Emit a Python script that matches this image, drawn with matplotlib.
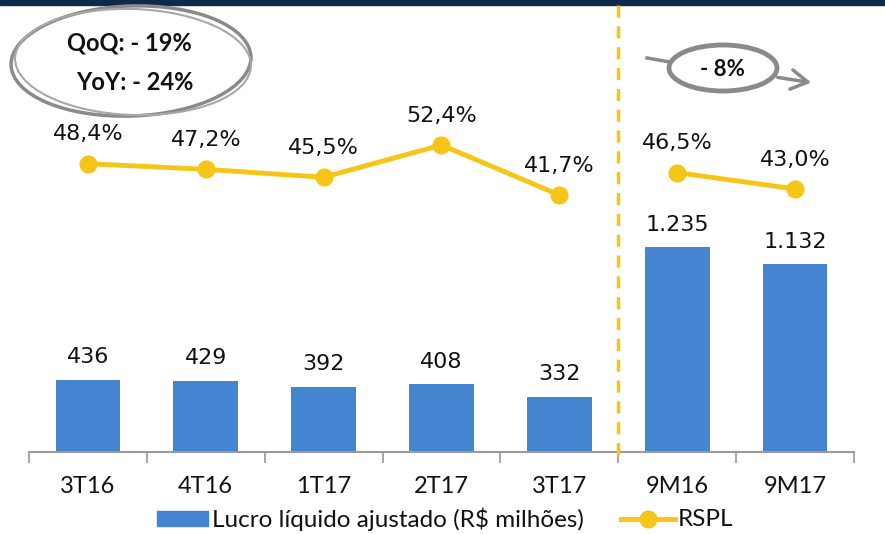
import matplotlib
matplotlib.use("Agg")
import matplotlib.pyplot as plt
from matplotlib.patches import Ellipse, FancyArrowPatch, Rectangle
from matplotlib.lines import Line2D

categories = ["3T16", "4T16", "1T17", "2T17", "3T17", "9M16", "9M17"]
lucro = [436, 429, 392, 408, 332, 1235, 1132]
lucro_labels = ["436", "429", "392", "408", "332", "1.235", "1.132"]
rspl = [48.4, 47.2, 45.5, 52.4, 41.7, 46.5, 43.0]
rspl_labels = ["48,4%", "47,2%", "45,5%", "52,4%", "41,7%", "46,5%", "43,0%"]

BLUE = "#4484d1"
YELLOW = "#f5c518"
GREY = "#8a8a8a"
NAVY = "#10284a"
NARROW = ["Lato", "DejaVu Sans"]

W, H = 885, 534
fig = plt.figure(figsize=(W / 100, H / 100), dpi=100)

# main axes: baseline at y=452 px, left/right at 29/854 px
left, right, base, top = 29, 854, 452, 10
ax = fig.add_axes([left / W, 1 - base / H, (right - left) / W, (base - top) / H])
ax.set_xlim(-0.5, 6.5)
ax.set_ylim(0, 2665)
ax.bar(range(7), lucro, width=0.55, color=BLUE, zorder=2)
for i, (v, lab) in enumerate(zip(lucro, lucro_labels)):
    ax.annotate(lab, (i, v), xytext=(0, 9), textcoords="offset points",
                ha="center", va="bottom", fontsize=16, color="#111111")

for s in ["top", "right", "left"]:
    ax.spines[s].set_visible(False)
ax.spines["bottom"].set_color("#9a9a9a")
ax.spines["bottom"].set_linewidth(1.5)
ax.set_yticks([])
ax.set_xticks([x - 0.5 for x in range(8)])
ax.set_xticklabels([])
ax.tick_params(axis="x", length=8, width=1.2, color="#9a9a9a", direction="out")
for i, c in enumerate(categories):
    ax.text(i, -0.079, c, transform=ax.get_xaxis_transform(), ha="center", va="center",
            fontsize=17, family=NARROW, color="#111111")

ax2 = ax.twinx()
ax2.set_ylim(-13.3, 81.3)
ax2.set_yticks([])
for s in ax2.spines.values():
    s.set_visible(False)
for seg in (range(0, 5), range(5, 7)):
    xs = list(seg)
    ax2.plot(xs, [rspl[i] for i in xs], color=YELLOW, lw=3.5, marker="o",
             ms=12, mfc=YELLOW, mec=YELLOW, zorder=3)
for i, (v, lab) in enumerate(zip(rspl, rspl_labels)):
    ax2.annotate(lab, (i, v), xytext=(0, 14), textcoords="offset points",
                 ha="center", va="bottom", fontsize=16, color="#111111")

# overlay in pixel coordinates for decorations
ov = fig.add_axes([0, 0, 1, 1], facecolor="none")
ov.set_xlim(0, W)
ov.set_ylim(H, 0)
ov.axis("off")

ov.add_patch(Rectangle((0, 0), W, 5, color=NAVY))
ov.plot([618, 618], [5, 462], color=YELLOW, lw=2.5, ls=(0, (3.5, 2.5)))

ov.add_patch(Ellipse((131, 61), 240, 110, fill=False, ec=GREY, lw=2.5, angle=-2))
ov.add_patch(Ellipse((133, 62), 236, 106, fill=False, ec="#a8a8a8", lw=1.5, angle=2))
ov.text(129, 43, "QoQ: - 19%", ha="center", va="center", fontsize=17,
        fontweight="bold", family=NARROW, color="#111111")
ov.text(135, 82, "YoY: - 24%", ha="center", va="center", fontsize=17,
        fontweight="bold", family=NARROW, color="#111111")

ov.plot([647, 670], [58, 62], color=GREY, lw=2.5)
ov.add_patch(FancyArrowPatch((775, 77), (814, 83), arrowstyle="->,head_length=12,head_width=7",
                             color=GREY, lw=2.5, mutation_scale=1))
ov.add_patch(Ellipse((723, 68), 108, 46, fill=False, ec=GREY, lw=3.5))
ov.text(722, 70, "- 8%", ha="center", va="center", fontsize=16,
        fontweight="bold", family=NARROW, color="#111111")

# legend
ov.add_patch(Rectangle((157, 511), 51, 15, color=BLUE))
ov.text(212, 519, "Lucro líquido ajustado (R$ milhões)", ha="left", va="center",
        fontsize=17.5, family=NARROW, color="#111111")
ov.add_line(Line2D([621, 675], [519, 519], color=YELLOW, lw=3.5))
ov.plot([648], [519], marker="o", ms=12, color=YELLOW)
ov.text(678, 519, "RSPL", ha="left", va="center", fontsize=17.5,
        family=NARROW, color="#111111")

fig.savefig("out.png", dpi=100)
